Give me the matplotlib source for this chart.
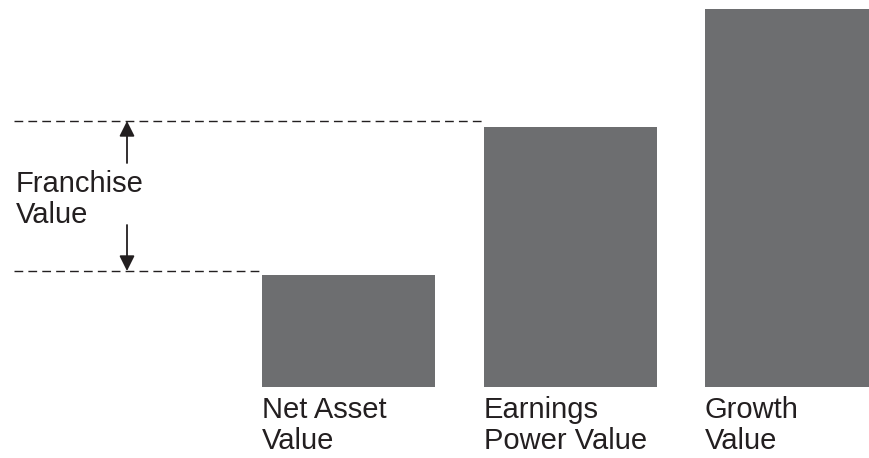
import numpy as np
import matplotlib
matplotlib.use('Agg')
import matplotlib.pyplot as plt

# values (arbitrary units, baseline = 0)
labels = ['Net Asset\nValue', 'Earnings\nPower Value', 'Growth\nValue']
values = [112, 260, 378]
positions = [348.5, 570.5, 791.5]

bar_color = '#6d6e70'
ink = '#231f20'

plt.rcParams['font.family'] = ['Liberation Sans', 'DejaVu Sans']

fig = plt.figure(figsize=[8.69, 4.58], dpi=100)
ax = fig.add_axes([0, 0, 1, 1])
ax.set_xlim(0, 869)
ax.set_ylim(-71, 387)
ax.axis('off')

ax.bar(positions, values, width=173, color=bar_color, linewidth=0)

# bar labels, left aligned under each bar
for p, lab in zip(positions, labels):
    ax.text(p - 87, -9, lab, ha='left', va='top', fontsize=21,
            color=ink, linespacing=1.12)

# dashed guide lines at the two lower levels
lo = values[0] + 4
hi = values[1] + 6
ax.hlines(hi, 14, 482, colors=ink, linestyles=(0, (6.3, 3.7)), linewidth=1)
ax.hlines(lo, 14, 260, colors=ink, linestyles=(0, (6.3, 3.7)), linewidth=1)

# arrows marking the franchise value gap
ax_x = 127
ax.annotate('', xy=(ax_x, hi), xytext=(ax_x, 224),
            arrowprops=dict(arrowstyle='-|>', color=ink, lw=1.3,
                            mutation_scale=23, shrinkA=0, shrinkB=0))
ax.annotate('', xy=(ax_x, lo), xytext=(ax_x, 162),
            arrowprops=dict(arrowstyle='-|>', color=ink, lw=1.3,
                            mutation_scale=23, shrinkA=0, shrinkB=0))

ax.text(16, 217, 'Franchise\nValue', ha='left', va='top', fontsize=21,
        color=ink, linespacing=1.12)

fig.savefig('out.png', dpi=100)
